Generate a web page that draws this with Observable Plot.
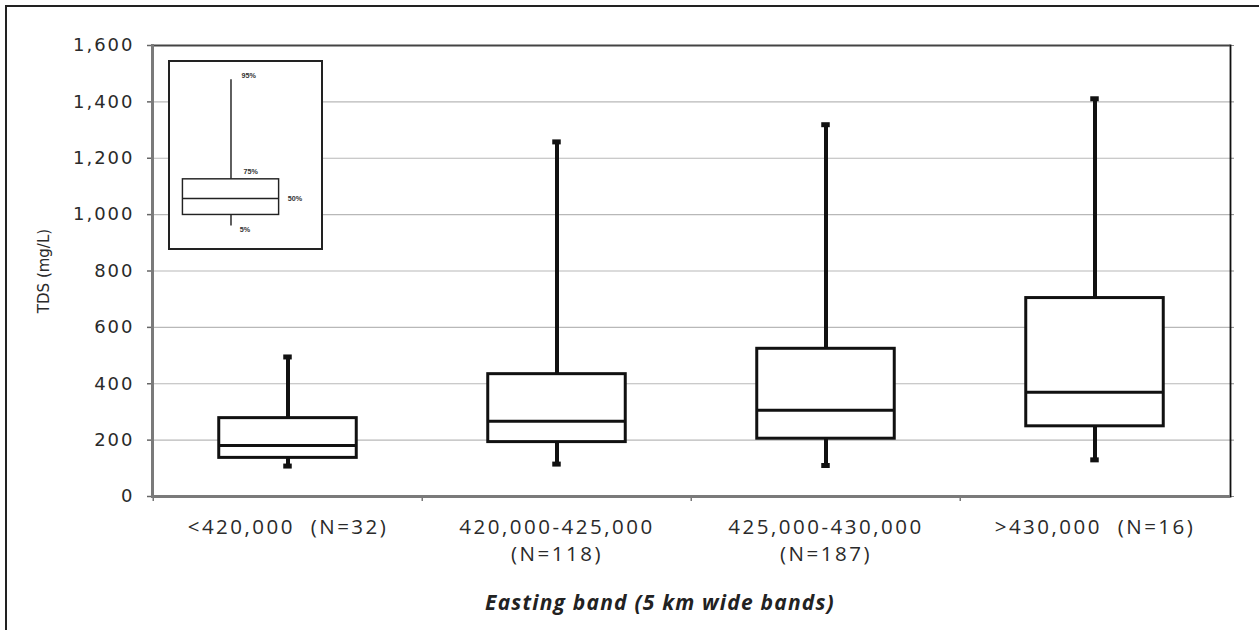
<!DOCTYPE html>
<html>
<head>
<meta charset="utf-8">
<script src="https://cdn.jsdelivr.net/npm/d3@7"></script>
<script src="https://cdn.jsdelivr.net/npm/@observablehq/plot@0.6"></script>
<style>
  html, body { margin: 0; padding: 0; background: #fff; }
  #wrap { position: relative; width: 1259px; height: 630px; overflow: hidden; }
  #outer { position: absolute; left: 5px; top: 5px; width: 1300px; height: 700px;
           border-left: 2px solid #222; border-top: 2px solid #222; box-sizing: border-box; }
  #chart { position: absolute; left: 0; top: 0; }
  #chart svg text { white-space: pre; }
  #chart g[aria-label="y-axis tick label"] text { letter-spacing: 2px; }
  #chart g[aria-label="x-axis tick label"] text { letter-spacing: 2.5px; }
  #xtitle { position: absolute; top: 588px; left: 410px; width: 500px; text-align: center;
            font-family: "Open Sans", Lato, sans-serif; font-weight: bold; font-style: italic;
            font-size: 21px; letter-spacing: 1.2px; color: #222; }
  #legend { position: absolute; left: 168px; top: 60px; width: 155px; height: 190px;
            background: #fff; border: 2px solid #222; box-sizing: border-box; }
  #legend svg { position: absolute; left: -2px; top: -2px; }
</style>
</head>
<body>
<div id="wrap">
  <div id="outer"></div>
  <div id="chart"></div>
  <div id="legend"></div>
  <div id="xtitle">Easting band (5 km wide bands)</div>
</div>
<script>
// ---- Data ----
const categories = ["<420,000  (N=32)", "420,000-425,000\n(N=118)", "425,000-430,000\n(N=187)", ">430,000  (N=16)"];
const p5     = [108, 115, 110, 130];
const q1     = [137, 193, 205, 249];
const median = [181, 267, 306, 370];
const q3     = [278, 434, 524, 704];
const p95    = [495, 1258, 1319, 1411];
const yTicks = [0, 200, 400, 600, 800, 1000, 1200, 1400, 1600];

// legend (inset) schematic values
const legendCat = ["legend"];
const legendP5 = [10], legendQ1 = [16], legendMedian = [25], legendQ3 = [35.5], legendP95 = [90];
const legendLabels = ["95%", "75%", "50%", "5%"];

const data = categories.map((c, i) => ({cat: c, p5: p5[i], q1: q1[i], median: median[i], q3: q3[i], p95: p95[i]}));

const W = 1259, H = 630;
const mL = 152, mR = 29, mT = 45, mB = H - 496;
const band = (W - mL - mR) / categories.length;
const boxW = 138;
const boxInset = (band - boxW) / 2;
const capInset = (band - 9) / 2;

const chart = Plot.plot({
  width: W, height: H,
  marginLeft: mL, marginRight: mR, marginTop: mT, marginBottom: mB,
  style: {fontFamily: "'DejaVu Sans', sans-serif", fontSize: "18px", color: "#2a2a2a", background: "transparent"},
  x: {domain: categories, padding: 0, axis: null},
  y: {domain: [0, 1600], axis: null},
  marks: [
    Plot.gridY(yTicks.filter(d => d > 0 && d < 1600), {stroke: "#b8b8b8", strokeOpacity: 1, strokeWidth: 1.2}),
    Plot.axisY({ticks: yTicks, tickFormat: d3.format(","), tickSize: 5, tickPadding: 13, stroke: "#666", strokeWidth: 1.5,
      label: "TDS (mg/L)", labelAnchor: "center", labelArrow: "none", labelOffset: 114, fontSize: 18}),
    Plot.axisY({anchor: "right", ticks: yTicks, tickFormat: () => "", tickSize: 3, stroke: "#888", label: null}),
    // small separator ticks at the band boundaries
    Plot.axisX({tickSize: 5, dx: -band / 2, tickFormat: () => "", stroke: "#777", strokeWidth: 1.5, label: null}),
    Plot.axisX({tickSize: 0, tickPadding: 19, fontFamily: "'Open Sans', Lato, sans-serif", fontSize: 20.5, lineHeight: 1.3, label: null}),
    Plot.frame({anchor: "right", stroke: "#111", strokeWidth: 1.8}),
    Plot.ruleY([1600], {stroke: "#444", strokeWidth: 1.8}),
    Plot.frame({anchor: "left", stroke: "#7a7a7a", strokeWidth: 3}),
    Plot.ruleY([0], {stroke: "#7a7a7a", strokeWidth: 3}),
    // whiskers
    Plot.ruleX(data, {x: "cat", y1: "p5", y2: "q1", stroke: "#111", strokeWidth: 4}),
    Plot.ruleX(data, {x: "cat", y1: "q3", y2: "p95", stroke: "#111", strokeWidth: 4}),
    Plot.tickY(data, {x: "cat", y: "p95", stroke: "#111", strokeWidth: 5, insetLeft: capInset, insetRight: capInset}),
    Plot.tickY(data, {x: "cat", y: "p5", stroke: "#111", strokeWidth: 5, insetLeft: capInset, insetRight: capInset}),
    // boxes
    Plot.barY(data, {x: "cat", y1: "q1", y2: "q3", fill: "white", stroke: "#111", strokeWidth: 3, insetLeft: boxInset, insetRight: boxInset}),
    Plot.tickY(data, {x: "cat", y: "median", stroke: "#111", strokeWidth: 3, insetLeft: boxInset, insetRight: boxInset})
  ]
});
document.getElementById("chart").appendChild(chart);
d3.select(chart).selectAll('g[aria-label="y-axis label"] text').style("font-family", "'DejaVu Sans', sans-serif").style("font-size", "15px");

// ---- inset legend ----
const ld = legendCat.map((c, i) => ({cat: c, p5: legendP5[i], q1: legendQ1[i], median: legendMedian[i], q3: legendQ3[i], p95: legendP95[i]}));
const labelRows = [
  {cat: "legend", v: legendP95[0], t: legendLabels[0], dx: 11, dy: -4},
  {cat: "legend", v: legendQ3[0], t: legendLabels[1], dx: 13, dy: -8},
  {cat: "legend", v: legendMedian[0], t: legendLabels[2], dx: 59, dy: 0},
  {cat: "legend", v: legendP5[0], t: legendLabels[3], dx: 9, dy: 4}
];
const legend = Plot.plot({
  width: 157, height: 192,
  marginLeft: 15, marginRight: 42, marginTop: 1, marginBottom: 1,
  style: {background: "transparent", fontFamily: "'Liberation Sans', Arial, sans-serif"},
  x: {domain: legendCat, padding: 0, axis: null},
  y: {domain: [0, 100], axis: null},
  marks: [
    Plot.ruleX(ld, {x: "cat", y1: "p5", y2: "q1", stroke: "#222", strokeWidth: 1.5}),
    Plot.ruleX(ld, {x: "cat", y1: "q3", y2: "p95", stroke: "#222", strokeWidth: 1.5}),
    Plot.barY(ld, {x: "cat", y1: "q1", y2: "q3", fill: "white", stroke: "#222", strokeWidth: 1.5}),
    Plot.tickY(ld, {x: "cat", y: "median", stroke: "#222", strokeWidth: 1.5}),
    ...labelRows.map(r => Plot.text([r], {x: "cat", y: "v", text: "t", dx: r.dx, dy: r.dy, textAnchor: "start", fontSize: 7.5, fontWeight: "bold", fill: "#333"}))
  ]
});
document.getElementById("legend").appendChild(legend);
</script>
</body>
</html>
